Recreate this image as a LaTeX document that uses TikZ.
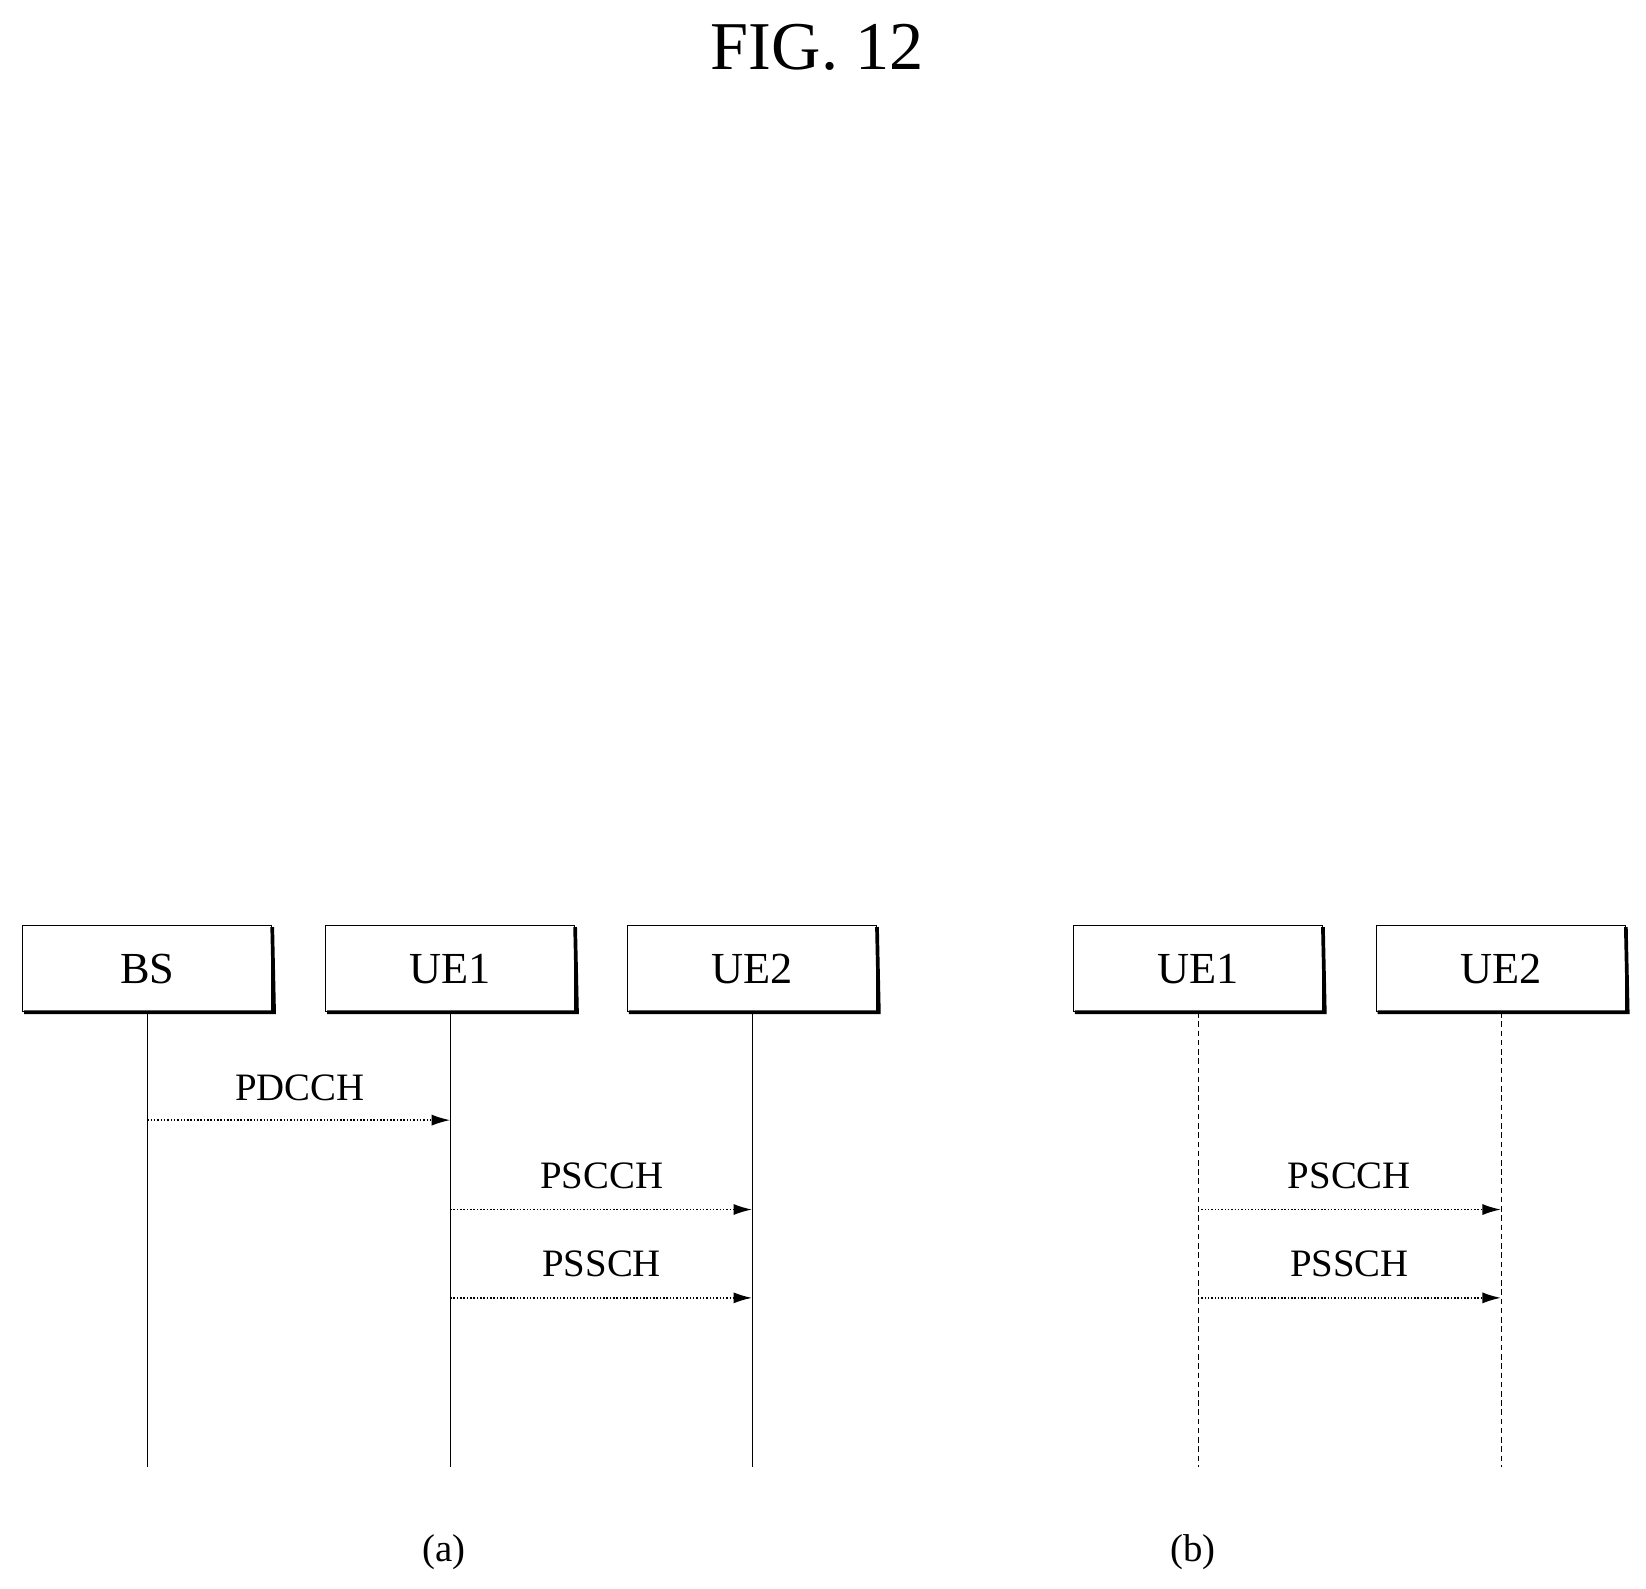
\documentclass[tikz,border=0pt]{standalone}
\usepackage{fontspec}
\setmainfont{Liberation Serif}
\usetikzlibrary{arrows.meta}

\begin{document}
\begin{tikzpicture}[x=0.02cm,y=-0.02cm,
    entity/.style={draw,minimum width=4.74cm,minimum height=1.64cm,font=\fontsize{24}{28}\selectfont},
    life/.style={thin},
    msg/.style={densely dotted,thick,-{Latex[length=10pt,width=6pt]}},
    lbl/.style={font=\fontsize{21}{26}\selectfont,anchor=base}]
    \useasboundingbox (0,0) rectangle (1565,1510);
    \node at (777,45) {\fontsize{37}{44}\selectfont FIG. 12};
    % entities
    \node[entity] (bs) at (140,921) {BS};
    \node[entity] (ua) at (428,921) {UE1};
    \node[entity] (va) at (715,921) {UE2};
    \node[entity] (ub) at (1139,921) {UE1};
    \node[entity] (vb) at (1427,921) {UE2};
    \foreach \n in {bs,ua,va,ub,vb}{
        \draw[line width=2pt] ([xshift=1pt]\n.south west) -- ([xshift=1pt]\n.south east) -- ([yshift=-1pt]\n.north east);
    }
    % lifelines
    \coordinate (bse) at (140,1395);
    \coordinate (uae) at (428,1395);
    \coordinate (vae) at (715,1395);
    \coordinate (ube) at (1139,1395);
    \coordinate (vbe) at (1427,1395);
    \draw[life] (bs) -- (bse);
    \draw[life] (ua) -- (uae);
    \draw[life] (va) -- (vae);
    \draw[life,densely dashed] (ub) -- (ube);
    \draw[life,densely dashed] (vb) -- (vbe);
    % messages
    \coordinate (m1a) at (140,1065); \coordinate (m1b) at (428,1065);
    \coordinate (m2a) at (428,1150); \coordinate (m2b) at (715,1150);
    \coordinate (m3a) at (428,1234); \coordinate (m3b) at (715,1234);
    \coordinate (m4a) at (1139,1150); \coordinate (m4b) at (1427,1150);
    \coordinate (m5a) at (1139,1234); \coordinate (m5b) at (1427,1234);
    \draw[msg] (m1a) -- (m1b);
    \draw[msg] (m2a) -- (m2b);
    \draw[msg] (m3a) -- (m3b);
    \draw[msg] (m4a) -- (m4b);
    \draw[msg] (m5a) -- (m5b);
    \node[lbl] (l1) at (285,1046) {PDCCH};
    \node[lbl] (l2) at (572,1130) {PSCCH};
    \node[lbl] (l3) at (572,1214) {PSSCH};
    \node[lbl] (l4) at (1283,1130) {PSCCH};
    \node[lbl] (l5) at (1283,1214) {PSSCH};
    \node[lbl] (ca) at (422,1485) {(a)};
    \node[lbl] (cb) at (1134,1485) {(b)};
\end{tikzpicture}
\end{document}
